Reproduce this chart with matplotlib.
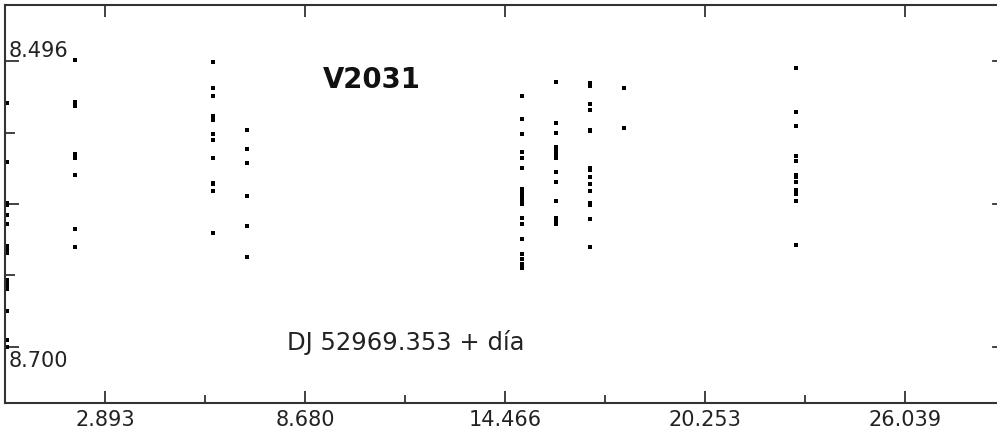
import matplotlib
matplotlib.use('Agg')
import matplotlib.pyplot as plt

# Curva de luz V2031: magnitud frente a días desde DJ 52969.353

# noches de observación (días) y magnitudes de cada noche
dias_noche = [0.06, 2.03, 6.02, 7.00, 14.96, 15.94, 16.93, 17.91, 22.89]

mag_n1 = [8.526, 8.568, 8.597, 8.599, 8.606, 8.612, 8.628, 8.631, 8.633,
          8.652, 8.655, 8.657, 8.659, 8.674, 8.695, 8.700]
mag_n2 = [8.495, 8.525, 8.528, 8.562, 8.565, 8.577, 8.616, 8.629]
mag_n3 = [8.497, 8.515, 8.521, 8.535, 8.538, 8.548, 8.552, 8.565, 8.583,
          8.584, 8.589, 8.619]
mag_n4 = [8.545, 8.559, 8.569, 8.592, 8.614, 8.636]
mag_n5 = [8.521, 8.537, 8.548, 8.561, 8.565, 8.572, 8.587, 8.590, 8.593,
          8.596, 8.598, 8.608, 8.612, 8.623, 8.634, 8.637, 8.641, 8.644]
mag_n6 = [8.511, 8.540, 8.547, 8.557, 8.560, 8.563, 8.565, 8.575, 8.582,
          8.596, 8.608, 8.610, 8.612]
mag_n7 = [8.512, 8.514, 8.527, 8.531, 8.545, 8.546, 8.572, 8.574, 8.579,
          8.584, 8.589, 8.597, 8.599, 8.609, 8.629]
mag_n8 = [8.515, 8.544]
mag_n9 = [8.501, 8.532, 8.542, 8.564, 8.567, 8.577, 8.579, 8.582, 8.588,
          8.591, 8.596, 8.627]

noches = [mag_n1, mag_n2, mag_n3, mag_n4, mag_n5, mag_n6, mag_n7, mag_n8, mag_n9]

xticks_major = [2.893, 8.680, 14.466, 20.253, 26.039]
xticks_minor = [5.787, 11.573, 17.360, 23.146]
yticks_major = [8.496, 8.598, 8.700]
yticks_minor = [8.547, 8.649]

gris = '#333333'

fig = plt.figure(figsize=(9.97, 4.41), dpi=100)
ax = fig.add_axes([5 / 997, 38 / 441, 1000 / 997, 398 / 441])

for dia, mags in zip(dias_noche, noches):
    ax.plot([dia] * len(mags), mags, 's', color='black', markersize=2.3,
            markeredgewidth=0, linestyle='none')

ax.set_xlim(0, 28.93)
ax.set_ylim(8.740, 8.456)

ax.set_xticks(xticks_major)
ax.set_xticks(xticks_minor, minor=True)
ax.set_xticklabels(['%.3f' % v for v in xticks_major])
ax.set_yticks(yticks_major)
ax.set_yticks(yticks_minor, minor=True)
ax.set_yticklabels([])

ax.tick_params(axis='x', which='major', direction='in', length=8.6, width=1.3,
               color=gris, top=True, pad=5, labelsize=15, labelcolor='#222222')
ax.tick_params(axis='x', which='minor', direction='in', length=5.8, width=1.3,
               color=gris, top=False)
ax.tick_params(axis='y', which='major', direction='in', length=10, width=1.3,
               color=gris, right=False)
ax.tick_params(axis='y', which='minor', direction='in', length=7, width=1.3,
               color=gris, right=False)

for lado in ['left', 'top', 'bottom']:
    ax.spines[lado].set_color(gris)
    ax.spines[lado].set_linewidth(1.5)
ax.spines['right'].set_visible(False)

# marcas cortas cerca del borde derecho
for v in yticks_major:
    ax.plot([0.9875, 0.9925], [v, v], color=gris, linewidth=1.3,
            transform=ax.get_yaxis_transform(), clip_on=False)

# etiquetas del eje y sólo en los extremos
ax.annotate('8.496', xy=(0, 8.496), xycoords=('axes fraction', 'data'),
            xytext=(2.5, 3), textcoords='offset points', va='baseline',
            ha='left', fontsize=15, color='#222222')
ax.annotate('8.700', xy=(0, 8.700), xycoords=('axes fraction', 'data'),
            xytext=(2.5, -14.5), textcoords='offset points', va='baseline',
            ha='left', fontsize=15, color='#222222')

ax.text(10.62, 8.5095, 'V2031', ha='center', va='center', fontsize=19.8,
        fontweight='bold', color='#111111')
ax.text(11.60, 8.697, 'DJ 52969.353 + día', ha='center', va='center',
        fontsize=17.5, color='#222222')

fig.savefig('out.png', dpi=100)
